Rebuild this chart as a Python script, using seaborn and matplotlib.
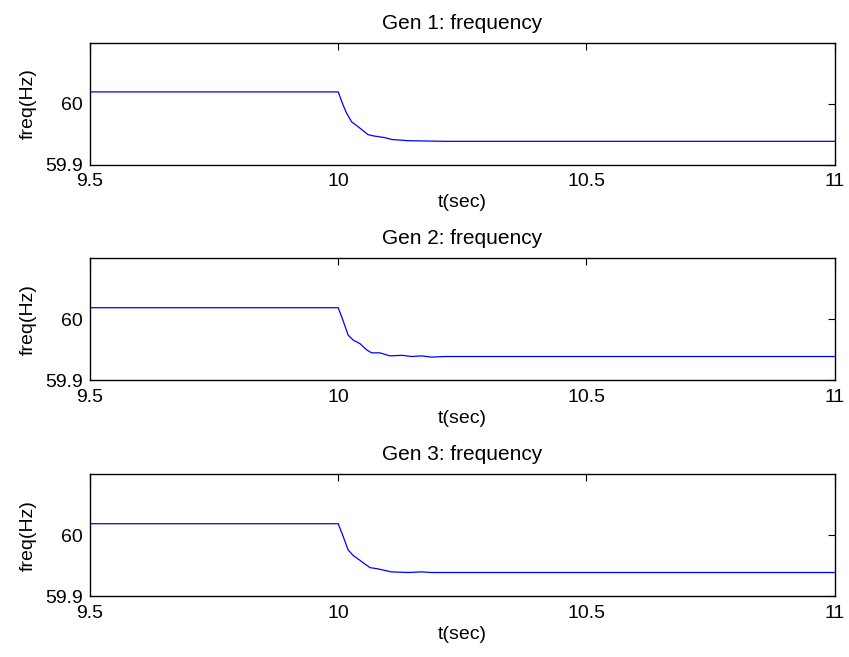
import matplotlib
matplotlib.use("Agg")
import matplotlib.pyplot as plt
import seaborn as sns
import pandas as pd

# Data (time in s, frequency in Hz)
t1 = [9.5, 10.0, 10.010, 10.017, 10.027, 10.040, 10.060, 10.070, 10.094, 10.108, 10.141, 10.215, 10.4, 10.7, 11.0]
f1 = [60.019, 60.019, 59.997, 59.984, 59.970, 59.962, 59.949, 59.947, 59.944, 59.941, 59.939, 59.938, 59.938, 59.938, 59.938]

t2 = [9.5, 10.0, 10.007, 10.014, 10.020, 10.030, 10.044, 10.057, 10.067, 10.084, 10.104, 10.128, 10.148, 10.168, 10.188, 10.215, 10.4, 10.7, 11.0]
f2 = [60.019, 60.019, 60.004, 59.988, 59.974, 59.966, 59.960, 59.950, 59.945, 59.945, 59.940, 59.941, 59.939, 59.940, 59.938, 59.939, 59.939, 59.939, 59.939]

t3 = [9.5, 10.0, 10.010, 10.020, 10.030, 10.047, 10.064, 10.080, 10.107, 10.141, 10.168, 10.188, 10.215, 10.4, 10.7, 11.0]
f3 = [60.019, 60.019, 59.998, 59.976, 59.967, 59.957, 59.947, 59.945, 59.940, 59.939, 59.940, 59.939, 59.939, 59.939, 59.939, 59.939]

titles = ["Gen 1: frequency", "Gen 2: frequency", "Gen 3: frequency"]
xticks = [9.5, 10, 10.5, 11]
xticklabels = ["9.5", "10", "10.5", "11"]
yticks = [59.9, 60.0]
yticklabels = ["59.9", "60"]

sns.set_theme(style="white")
plt.rcParams["font.family"] = ["Liberation Sans", "DejaVu Sans"]
plt.rcParams.update({
    "xtick.direction": "in", "ytick.direction": "in",
    "xtick.top": True, "ytick.right": True,
    "xtick.major.size": 5, "ytick.major.size": 5,
    "xtick.major.width": 0.8, "ytick.major.width": 0.8,
    "axes.edgecolor": "black", "axes.linewidth": 1.0,
    "xtick.color": "black", "ytick.color": "black",
    "text.color": "black", "axes.labelcolor": "black",
    "axes.titlecolor": "black",
    "font.size": 14,
})

fig = plt.figure(figsize=(8.49, 6.57), dpi=100)
left, width, height = 90 / 849, (834.7 - 90) / 849, 122 / 657
bottoms = [1 - 164.5 / 657, 1 - 380.3 / 657, 1 - 596.3 / 657]

series = [(t1, f1), (t2, f2), (t3, f3)]
for i, ((t, f), title) in enumerate(zip(series, titles)):
    ax = fig.add_axes([left, bottoms[i], width, height])
    df = pd.DataFrame({"t": t, "f": f})
    sns.lineplot(data=df, x="t", y="f", ax=ax, color="#0000ff", linewidth=0.9)
    ax.set_xlim(9.5, 11)
    ax.set_ylim(59.9, 60.1)
    ax.set_xticks(xticks)
    ax.set_xticklabels(xticklabels, fontsize=14)
    ax.set_yticks(yticks)
    ax.set_yticklabels(yticklabels, fontsize=14)
    ax.tick_params(axis="x", pad=6)
    ax.tick_params(axis="y", pad=5)
    ax.set_xlabel("t(sec)", fontsize=14, labelpad=3)
    ax.set_ylabel("freq(Hz)", fontsize=14, labelpad=6)
    ax.set_title(title, fontsize=15, pad=10)
    for s in ax.spines.values():
        s.set_visible(True)
        s.set_color("black")

fig.savefig("out.png", dpi=100, facecolor="white")
